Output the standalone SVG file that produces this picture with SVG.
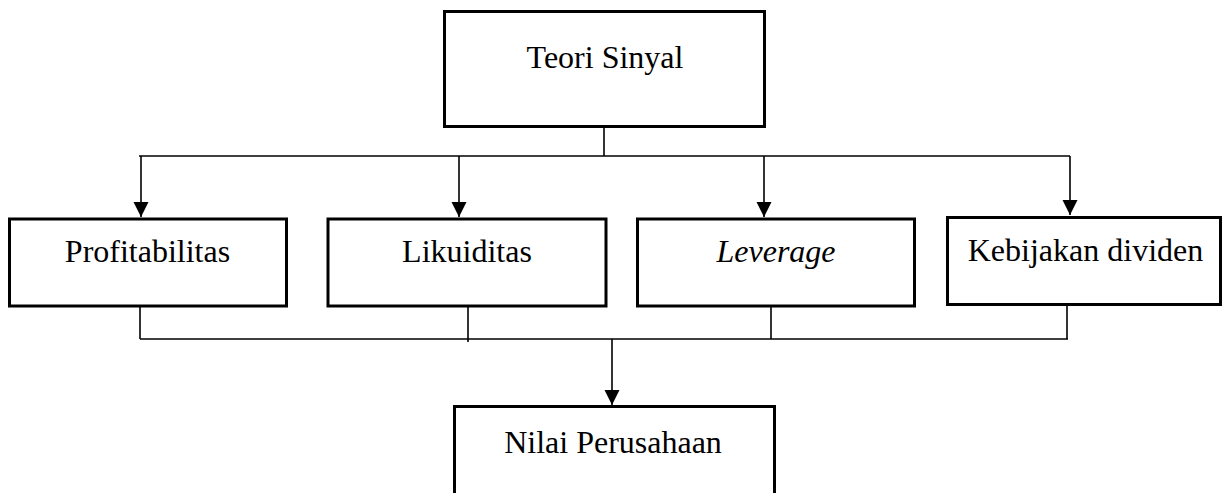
<svg xmlns="http://www.w3.org/2000/svg" width="1223" height="493" viewBox="0 0 1223 493">
<style>
.box{fill:#fff;stroke:#000;stroke-width:3}
.lbl{font-family:"Liberation Serif","Times New Roman",serif;font-size:32px;fill:#000;text-anchor:middle}
.it{font-style:italic}
.ln{fill:none;stroke:#000;stroke-width:1.6}
</style>
<defs>
<marker id="ah" markerWidth="15" markerHeight="16" refX="15" refY="7.5" orient="auto" markerUnits="userSpaceOnUse">
<path d="M0,0 L15,7.5 L0,15 Z" fill="#000"/>
</marker>
</defs>
<rect width="1223" height="493" fill="#fff"/>
<g id="connectors">
<line class="ln" x1="604" y1="127" x2="604" y2="156"/>
<line class="ln" x1="139" y1="156" x2="1070" y2="156"/>
<line class="ln" x1="141" y1="156" x2="141" y2="217" marker-end="url(#ah)"/>
<line class="ln" x1="459" y1="156" x2="459" y2="217" marker-end="url(#ah)"/>
<line class="ln" x1="764" y1="156" x2="764" y2="217" marker-end="url(#ah)"/>
<line class="ln" x1="1070" y1="156" x2="1070" y2="215" marker-end="url(#ah)"/>
<line class="ln" x1="140" y1="307" x2="140" y2="339"/>
<line class="ln" x1="468" y1="307" x2="468" y2="342"/>
<line class="ln" x1="771" y1="307" x2="771" y2="339"/>
<line class="ln" x1="1067" y1="306" x2="1067" y2="339"/>
<line class="ln" x1="140" y1="339" x2="1068" y2="339"/>
<line class="ln" x1="612" y1="339" x2="612" y2="405" marker-end="url(#ah)"/>
</g>
<g id="teori-sinyal">
<rect class="box" x="444.5" y="11.5" width="320" height="115"/>
<text class="lbl" x="605" y="68">Teori Sinyal</text>
</g>
<g id="profitabilitas">
<rect class="box" x="9.5" y="219" width="277" height="87"/>
<text class="lbl" x="147.5" y="262">Profitabilitas</text>
</g>
<g id="likuiditas">
<rect class="box" x="328" y="219" width="278" height="87"/>
<text class="lbl" x="467" y="262">Likuiditas</text>
</g>
<g id="leverage">
<rect class="box" x="637.5" y="219" width="277" height="87"/>
<text class="lbl it" x="776" y="262">Leverage</text>
</g>
<g id="kebijakan-dividen">
<rect class="box" x="947.5" y="217.5" width="273" height="87"/>
<text class="lbl" x="1085.5" y="261">Kebijakan dividen</text>
</g>
<g id="nilai-perusahaan">
<rect class="box" x="454.5" y="406.5" width="320" height="100"/>
<text class="lbl" x="613" y="453">Nilai Perusahaan</text>
</g>
</svg>
